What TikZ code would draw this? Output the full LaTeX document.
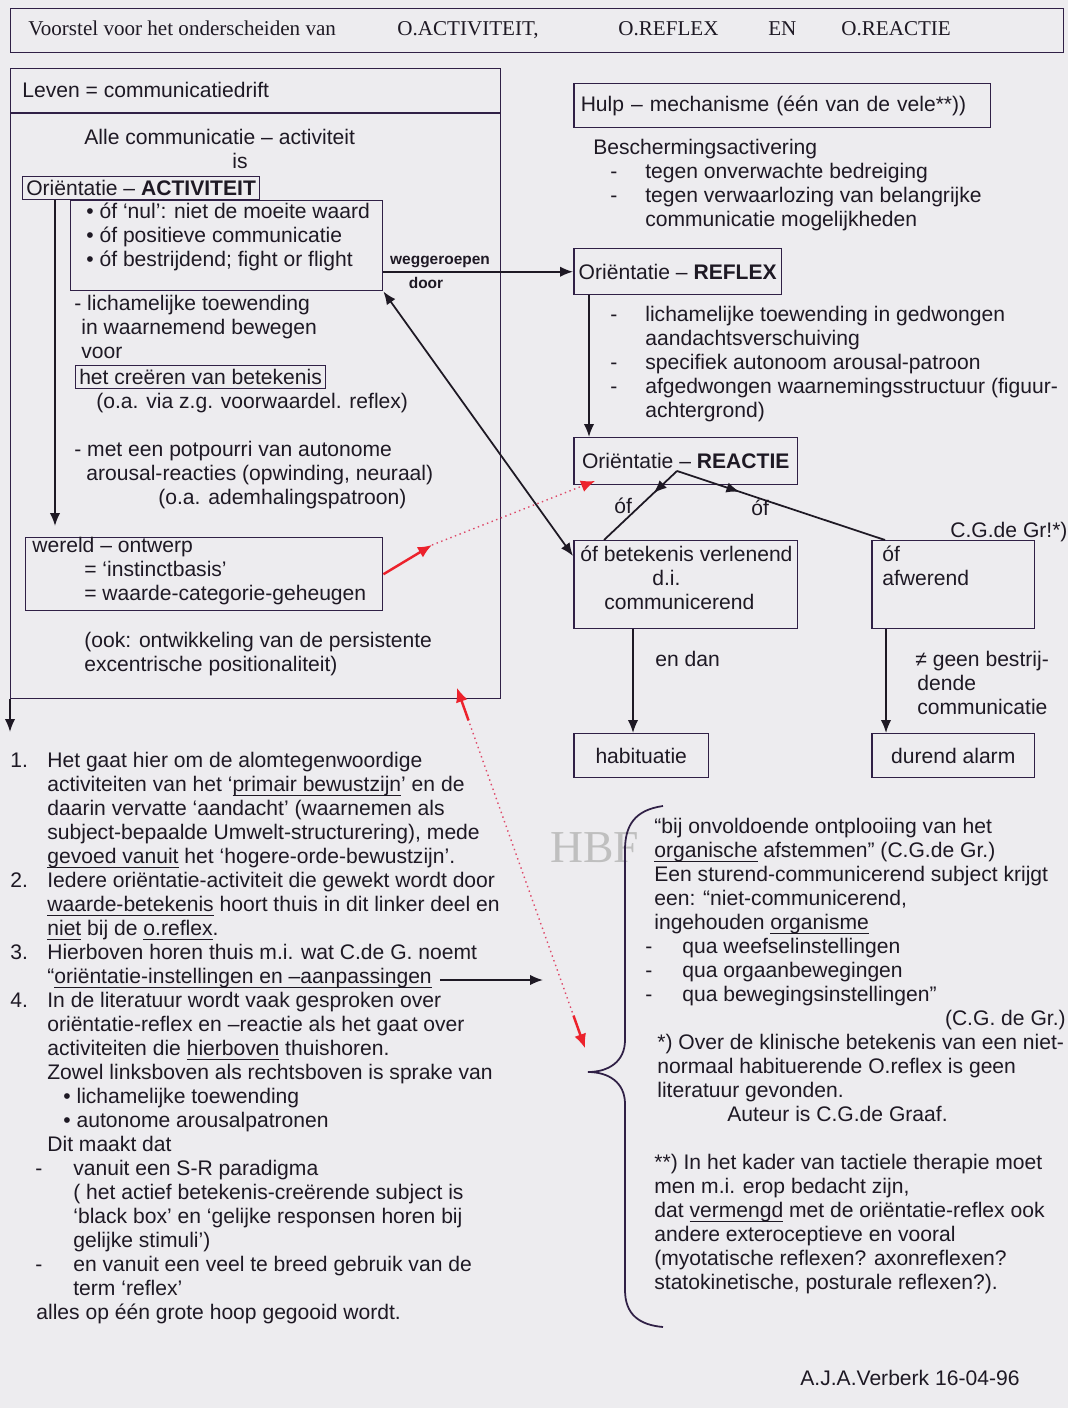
\documentclass[tikz,border=0pt]{standalone}
\usepackage{fontspec}
\setmainfont{Liberation Sans}
\newfontfamily\titlefont{Liberation Serif}
\usepackage{xcolor}
\usepackage{tikz}
\usetikzlibrary{positioning, arrows.meta, calc, decorations.markings}

\definecolor{paper}{RGB}{237,236,239}
\definecolor{boxline}{RGB}{48,32,70}
\definecolor{ink}{RGB}{30,25,36}
\definecolor{alarmred}{RGB}{236,34,44}
\definecolor{dotred}{RGB}{222,72,104}
\newcommand\bodyfont{\fontsize{12pt}{13.66pt}\selectfont}
\newcommand\uln[1]{\leavevmode\setbox0\hbox{#1}\rlap{\rule[-2.3pt]{\wd0}{0.55pt}}\box0\relax}

\begin{document}
\begin{tikzpicture}[
    x=0.02cm, y=-0.02cm,
    every node/.style={text=ink, font=\bodyfont},
    box/.style={draw=boxline, line width=0.85pt, anchor=north west, inner sep=0pt},
    tbox/.style={draw=boxline, line width=0.85pt, anchor=west, inner xsep=2pt, inner ysep=0pt},
    sbox/.style={draw=boxline, line width=0.85pt, anchor=north west, inner xsep=0.14cm, inner ysep=0pt, align=left},
    txt/.style={anchor=north west, inner sep=0pt, align=left},
    ttl/.style={anchor=base west, inner sep=0pt, font=\titlefont\fontsize{12pt}{14pt}\selectfont},
    small/.style={inner sep=0pt, font=\fontsize{8.8pt}{10pt}\selectfont\bfseries},
    arrow/.style={draw=ink, line width=1pt, -{Latex[length=2.6mm,width=2.1mm]}},
    twoway/.style={draw=ink, line width=1pt, {Latex[length=2.6mm,width=2.1mm]}-{Latex[length=2.6mm,width=2.1mm]}},
    midarrow/.style={draw=ink, line width=1pt, postaction={decorate},
        decoration={markings, mark=at position #1 with {\arrow{Latex[length=2.6mm,width=2.1mm]}}}},
    redline/.style={draw=alarmred, line width=1.4pt},
    reddots/.style={draw=dotred, line width=0.8pt, dotted},
    redtip/.style={-{Latex[length=2.8mm,width=2.4mm,color=alarmred]}},
    redboth/.style={{Latex[length=2.8mm,width=2.4mm,color=alarmred]}-{Latex[length=2.8mm,width=2.4mm,color=alarmred]}}
]
\useasboundingbox (0,0) rectangle (1068,1408);
\fill[paper] (0,0) rectangle (1068,1408);

% title
\node[box, minimum width=21.06cm, minimum height=0.88cm] (titlebox) at (10,8) {};
\node[ttl] (title) at (28,36) {Voorstel voor het onderscheiden van};
\node[ttl] (tact) at (397,36) {O.ACTIVITEIT,};
\node[ttl] (trefl) at (618,36) {O.REFLEX};
\node[ttl] (ten) at (768,36) {EN};
\node[ttl] (treac) at (841,36) {O.REACTIE};

% left column
\node[box, minimum width=9.8cm, minimum height=12.6cm] (leven) at (10,68) {};
\draw[boxline, line width=0.85pt] ($(leven.north west)+(0,45)$) -- ($(leven.north east)+(0,45)$);
\node[txt] (levenhead) at (22,82) {Leven = communicatiedrift};
\node[txt] (allecomm) at (84,129) {Alle communicatie – activiteit\\\hspace*{2.96cm}is};
\node[tbox, minimum height=0.46cm] (activ) at (22,188) {Oriëntatie – \textbf{ACTIVITEIT}};
\node[box, minimum width=6.24cm, minimum height=1.8cm] (bullets) at (70,200) {};
\node[txt] (bullettext) at (86,203) {• óf ‘nul’: niet de moeite waard\\• óf positieve communicatie\\• óf bestrijdend; fight or flight};
\node[txt] (toewend) at (74,295) {- lichamelijke toewending\\\hspace*{0.14cm}in waarnemend bewegen\\\hspace*{0.14cm}voor};
\node[tbox, minimum height=0.46cm] (creeren) at (75,377) {het creëren van betekenis};
\node[txt] (viazg) at (96,393) {(o.a. via z.g. voorwaardel. reflex)};
\node[txt] (potpourri) at (74,441) {- met een potpourri van autonome\\\hspace*{0.24cm}arousal-reacties (opwinding, neuraal)\\\hspace*{1.68cm}(o.a. ademhalingspatroon)};
\node[box, minimum width=7.14cm, minimum height=1.46cm] (wereld) at (25,537) {};
\node[txt] (wereldtext) at (32,537) {wereld – ontwerp\\\hspace*{1.04cm}= ‘instinctbasis’\\\hspace*{1.04cm}= waarde-categorie-geheugen};
\node[txt] (ook) at (84,632) {(ook: ontwikkeling van de persistente\\excentrische positionaliteit)};
\coordinate (levenout) at (10,732);

% right column
\node[sbox, text width=8.06cm, minimum height=0.88cm] (hulp) at (573,83) {Hulp – mechanisme (één van de vele**))};
\node[txt] (bescherm) at (593,139) {Beschermingsactivering\\
\hspace*{1.04cm}\llap{-\hspace{0.56cm}}tegen onverwachte bedreiging\\
\hspace*{1.04cm}\llap{-\hspace{0.56cm}}tegen verwaarlozing van belangrijke\\
\hspace*{1.04cm}communicatie mogelijkheden};
\node[tbox, anchor=north west, minimum width=4.16cm, minimum height=0.92cm] (reflex) at (573,248) {Oriëntatie – \textbf{REFLEX}};
\node[txt] (reflextext) at (645,306) {\llap{-\hspace{0.56cm}}lichamelijke toewending in gedwongen\\
aandachtsverschuiving\\
\llap{-\hspace{0.56cm}}specifiek autonoom arousal-patroon\\
\llap{-\hspace{0.56cm}}afgedwongen waarnemingsstructuur (figuur-\\
achtergrond)};
\node[tbox, anchor=north west, minimum width=4.48cm, minimum height=0.94cm] (reactie) at (573,437) {Oriëntatie – \textbf{REACTIE}};
\coordinate (fork) at (677,471);
\node[box, minimum width=4.48cm, minimum height=1.76cm] (betek) at (573,540) {};
\node[txt] (betektext) at (580,546) {óf betekenis verlenend\\\hspace*{1.44cm}d.i.\\\hspace*{0.48cm}communicerend};
\node[box, minimum width=3.26cm, minimum height=1.76cm] (afwer) at (871,540) {};
\node[txt] (afwertext) at (882,546) {óf\\afwerend};
\node[txt] (cgdegr) at (950,522) {C.G.de Gr!*)};
\node[tbox, anchor=north west, minimum width=2.7cm, minimum height=0.88cm] (habit) at (573,733) {habituatie};
\node[tbox, anchor=north west, minimum width=3.26cm, minimum height=0.88cm] (alarm) at (871,733) {durend alarm};
\node[txt] (endan) at (655,651) {en dan};
\node[txt] (geen) at (915,651) {≠ geen bestrij-\\\hspace*{0.04cm}dende\\\hspace*{0.04cm}communicatie};
\node[txt] (ofleft) at (614,498) {óf};
\node[txt] (ofright) at (751,500) {óf};
\node[small] (wegg) at (440,262) {weggeroepen};
\node[small] (door) at (426,283) {door};

% bottom left notes
\node[txt] (notes) at (47,752) {\llap{\makebox[0.74cm][l]{1.}}Het gaat hier om de alomtegenwoordige\\
activiteiten van het ‘\uln{primair bewustzijn}’ en de\\
daarin vervatte ‘aandacht’ (waarnemen als\\
subject-bepaalde Umwelt-structurering), mede\\
\uln{gevoed vanuit} het ‘hogere-orde-bewustzijn’.\\
\llap{\makebox[0.74cm][l]{2.}}Iedere oriëntatie-activiteit die gewekt wordt door\\
\uln{waarde-betekenis} hoort thuis in dit linker deel en\\
\uln{niet} bij de \uln{o.reflex}.\\
\llap{\makebox[0.74cm][l]{3.}}Hierboven horen thuis m.i. wat C.de G. noemt\\
“\uln{oriëntatie-instellingen en –aanpassingen}\\
\llap{\makebox[0.74cm][l]{4.}}In de literatuur wordt vaak gesproken over\\
oriëntatie-reflex en –reactie als het gaat over\\
activiteiten die \uln{hierboven} thuishoren.\\
Zowel linksboven als rechtsboven is sprake van\\
\hspace*{0.32cm}• lichamelijke toewending\\
\hspace*{0.32cm}• autonome arousalpatronen\\
Dit maakt dat\\
\llap{-\hspace{0.1cm}}\hspace*{0.52cm}vanuit een S-R paradigma\\
\hspace*{0.52cm}( het actief betekenis-creërende subject is\\
\hspace*{0.52cm}‘black box’ en ‘gelijke responsen horen bij\\
\hspace*{0.52cm}gelijke stimuli’)\\
\llap{-\hspace{0.1cm}}\hspace*{0.52cm}en vanuit een veel te breed gebruik van de\\
\hspace*{0.52cm}term ‘reflex’\\
\hspace*{-0.22cm}alles op één grote hoop gegooid wordt.};
\coordinate (instelA) at (440,980);
\coordinate (instelB) at (543,980);

% bottom right notes
\node[anchor=west, inner sep=0pt, font=\titlefont\fontsize{26pt}{28pt}\selectfont, text=gray!50] (hbf) at (550,848) {HBF};
\node[txt] (ontplooi) at (654,818) {“bij onvoldoende ontplooiing van het\\
\uln{organische} afstemmen” (C.G.de Gr.)\\
Een sturend-communicerend subject krijgt\\
een: “niet-communicerend,\\
ingehouden \uln{organisme}\\
\llap{-\hspace{0.04cm}}\hspace*{0.56cm}qua weefselinstellingen\\
\llap{-\hspace{0.04cm}}\hspace*{0.56cm}qua orgaanbewegingen\\
\llap{-\hspace{0.04cm}}\hspace*{0.56cm}qua bewegingsinstellingen”};
\node[txt, anchor=north east] (cgdegr2) at (1066,1010) {(C.G. de Gr.)};
\node[txt] (klinisch) at (657,1034) {*) Over de klinische betekenis van een niet-\\
normaal habituerende O.reflex is geen\\
literatuur gevonden.\\
\hspace*{1.4cm}Auteur is C.G.de Graaf.};
\node[txt] (tactiel) at (654,1154) {**) In het kader van tactiele therapie moet\\
men m.i. erop bedacht zijn,\\
dat \uln{vermengd} met de oriëntatie-reflex ook\\
andere exteroceptieve en vooral\\
(myotatische reflexen? axonreflexen?\\
statokinetische, posturale reflexen?).};
\node[txt] (sign) at (800,1370) {A.J.A.Verberk 16-04-96};

\draw[boxline, line width=1pt] (663,806) .. controls (635,810) and (625,825) .. (625,850)
    -- (625,1040) .. controls (625,1062) and (608,1072) .. (588,1072)
    .. controls (608,1072) and (625,1082) .. (625,1104)
    -- (625,1290) .. controls (625,1315) and (640,1325) .. (663,1327);

% connectors
\draw[arrow] (bullets.east |- reflex.west) -- (reflex.west);
\draw[twoway] (bullets.south east) -- ($(betek.north west)+(0,16)$);
\draw[arrow] ($(activ.south west)+(33,0)$) -- ($(wereld.north west)+(30,-11)$);
\draw[arrow] (leven.south west) -- (levenout);
\draw[arrow] ($(reflex.south west)+(16,0)$) -- ($(reactie.north west)+(16,0)$);
\draw[midarrow=0.32] (fork) -- ($(betek.north west)+(31,0)$);
\draw[midarrow=0.3] (fork) -- ($(afwer.north west)+(14,0)$);
\draw[arrow] ($(betek.south west)+(60,0)$) -- ($(habit.north west)+(60,0)$);
\draw[arrow] ($(afwer.south west)+(15,0)$) -- ($(alarm.north west)+(15,0)$);
\draw[arrow] (instelA) -- (instelB);

\coordinate (redmid) at (432,545);
\coordinate (redend) at (595,481);
\draw[redline, redtip] (wereld.east) -- (redmid);
\draw[reddots, redtip] (redmid) -- (redend);
\coordinate (redtop) at (457,688);
\coordinate (redbot) at (585,1048);
\draw[reddots, redboth] (redtop) -- (redbot);
\draw[redline] ($(redtop)!0.03!(redbot)$) -- ($(redtop)!0.09!(redbot)$);
\draw[redline] ($(redtop)!0.91!(redbot)$) -- ($(redtop)!0.97!(redbot)$);

\end{tikzpicture}
\end{document}
